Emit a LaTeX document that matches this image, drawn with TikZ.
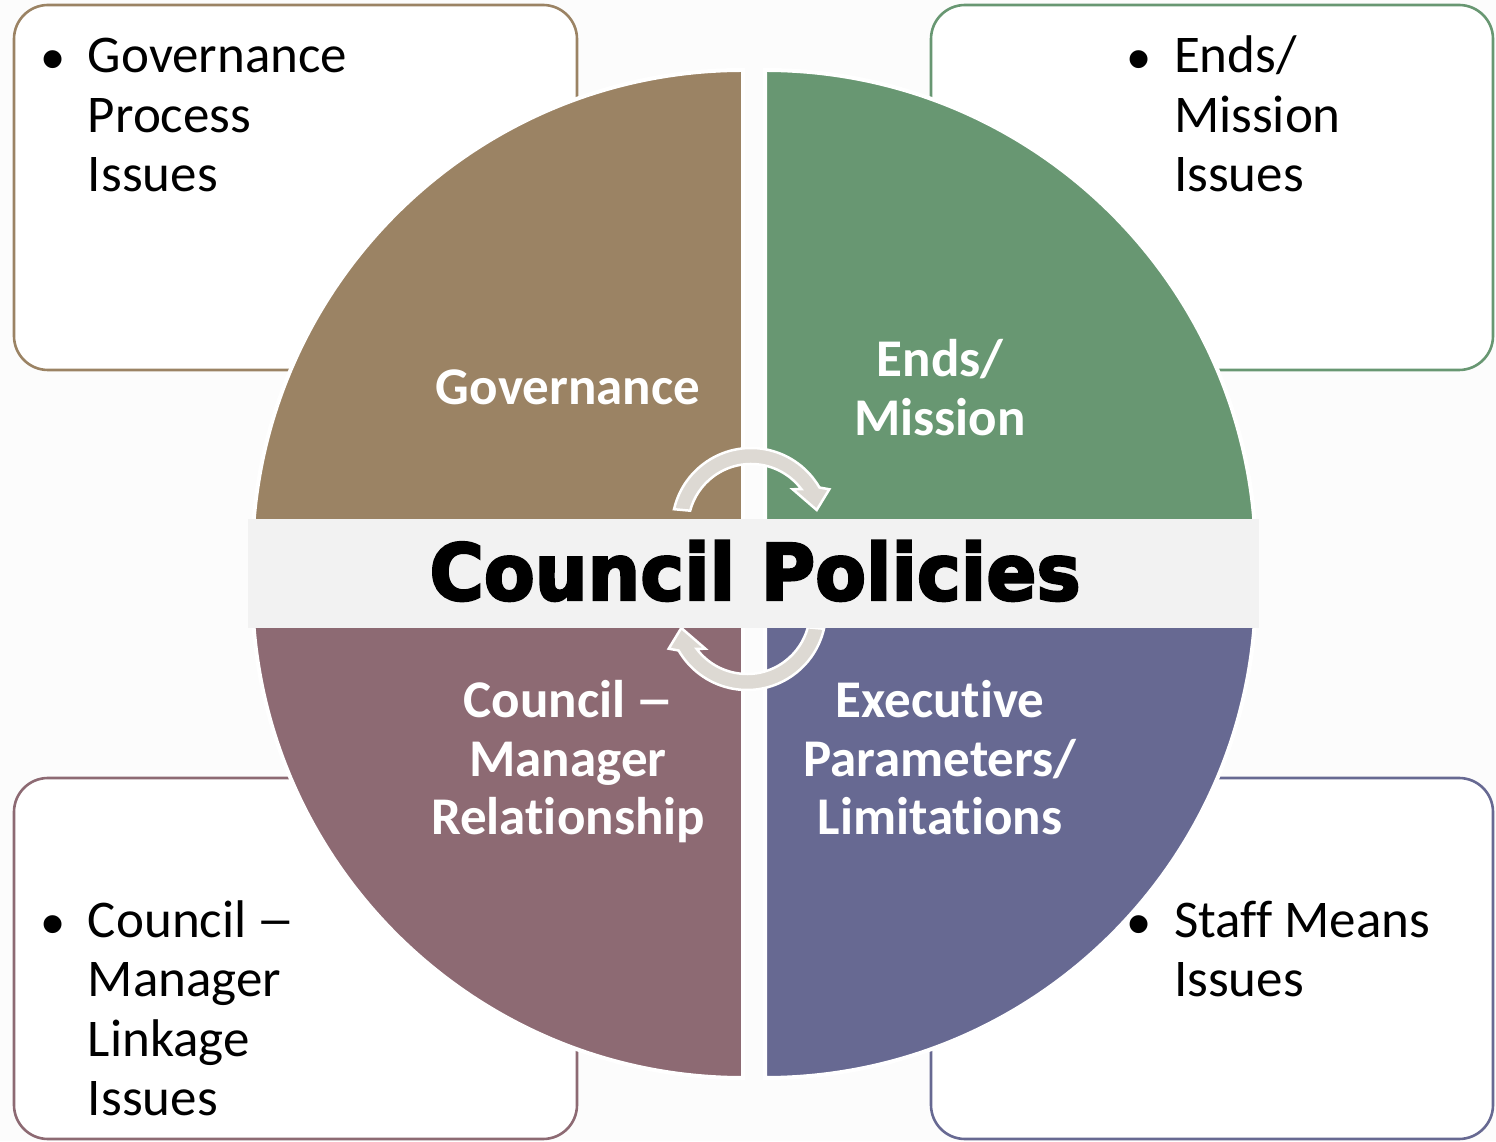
\documentclass[tikz,border=0pt]{standalone}
\usepackage{fontspec}
\setmainfont{Carlito}[Ligatures=NoCommon]
\newfontfamily\titlefont{DejaVu Sans Bold}[FakeBold=3.2]
\newfontfamily\bulletfont{Liberation Sans}

\definecolor{qbrown}{HTML}{9B8364}
\definecolor{qgreen}{HTML}{689772}
\definecolor{qmauve}{HTML}{8D6A73}
\definecolor{qslate}{HTML}{676992}
\definecolor{arrowgray}{HTML}{DDD9D3}
\definecolor{bandgray}{HTML}{F2F2F2}
\definecolor{pagebg}{HTML}{FCFCFC}

% bullet with a fixed-width slot, and the matching indent for wrapped lines
\newcommand\bul{\makebox[47pt][l]{\raisebox{-9pt}{\bulletfont\fontsize{66}{66}\selectfont •}}}
\newcommand\ind{\hspace*{47pt}}
% long dash used between "Council" and "Manager"
\newcommand\ldash{\scalebox{0.72}[1]{—}}
\newcommand\leftlines[1]{\begin{tabular}[t]{@{}l@{}}#1\end{tabular}}
\newcommand\midlines[1]{\begin{tabular}[t]{@{}c@{}}#1\end{tabular}}

\tikzset{
  issuebox/.style={draw=#1, line width=2.6pt, fill=white, rounded corners=34pt},
  quadrant/.style={fill=#1, draw=white, line width=4pt},
  cyclearrow/.style={fill=arrowgray, draw=white, line width=2.5pt, line join=miter},
  issuetext/.style={inner sep=0pt, outer sep=0pt, anchor=base west,
    font=\fontsize{53}{59.5}\selectfont, text=black},
  quadlabel/.style={inner sep=0pt, outer sep=0pt, anchor=base, text=white,
    font=\fontsize{53}{58.5}\selectfont\bfseries},
}

\begin{document}
\begin{tikzpicture}[x=1pt,y=1pt]
\useasboundingbox (0,0) rectangle (1496,1141);
\fill[pagebg] (0,0) rectangle (1496,1141);

% corner boxes behind the disc
\draw[issuebox=qbrown] (14,771) rectangle (577,1136);
\draw[issuebox=qgreen] (931,771) rectangle (1493,1136);
\draw[issuebox=qmauve] (14,2) rectangle (577,363);
\draw[issuebox=qslate] (931,2) rectangle (1493,363);

% four quarter discs
\draw[quadrant=qbrown] (743,580) -- (743,1071) arc[start angle=90,end angle=180,radius=491] -- cycle;
\draw[quadrant=qgreen] (765,580) -- (765,1071) arc[start angle=90,end angle=0,radius=491] -- cycle;
\draw[quadrant=qmauve] (743,554) -- (743,63) arc[start angle=270,end angle=180,radius=491] -- cycle;
\draw[quadrant=qslate] (765,554) -- (765,63) arc[start angle=270,end angle=360,radius=491] -- cycle;

% circular arrows around the centre
\begin{scope}[shift={(751,614)}]
  \draw[cyclearrow] (167:79) arc[start angle=167,end angle=30,radius=79]
    -- (78.3,37.7) -- (65.7,17) -- (41.7,37.7)
    -- (37:63) arc[start angle=37,end angle=165,radius=63] -- cycle;
\end{scope}
\begin{scope}[shift={(747,530)}, rotate=180]
  \draw[cyclearrow] (167:79) arc[start angle=167,end angle=30,radius=79]
    -- (78.3,37.7) -- (65.7,17) -- (41.7,37.7)
    -- (37:63) arc[start angle=37,end angle=165,radius=63] -- cycle;
\end{scope}

% central band with the title
\fill[bandgray] (248,513) rectangle (1259,622);
\node[inner sep=0pt, anchor=base, font=\titlefont\fontsize{78}{78}\selectfont]
  (title) at (755,541) {\scalebox{0.95}[1]{Council Policies}};

% quadrant labels
\node[quadlabel] (govlabel) at (568,736) {\midlines{Governance}};
\node[quadlabel] (endslabel) at (940,764) {\midlines{Ends/\\Mission}};
\node[quadlabel] (rellabel) at (568,423) {\midlines{Council \ldash\\Manager\\Relationship}};
\node[quadlabel] (execlabel) at (940,423) {\midlines{Executive\\Parameters/\\Limitations}};

% bullet texts in the corner boxes
\node[issuetext] (govissues) at (41,1068) {\leftlines{\bul Governance\\\ind Process\\\ind Issues}};
\node[issuetext] (endsissues) at (1127,1068) {\leftlines{\bul Ends/\\\ind Mission\\\ind Issues}};
\node[issuetext] (linkissues) at (41,204) {\leftlines{\bul Council \ldash\\\ind Manager\\\ind Linkage\\\ind Issues}};
\node[issuetext] (staffissues) at (1127,204) {\leftlines{\bul Staff Means\\\ind Issues}};
\end{tikzpicture}
\end{document}
